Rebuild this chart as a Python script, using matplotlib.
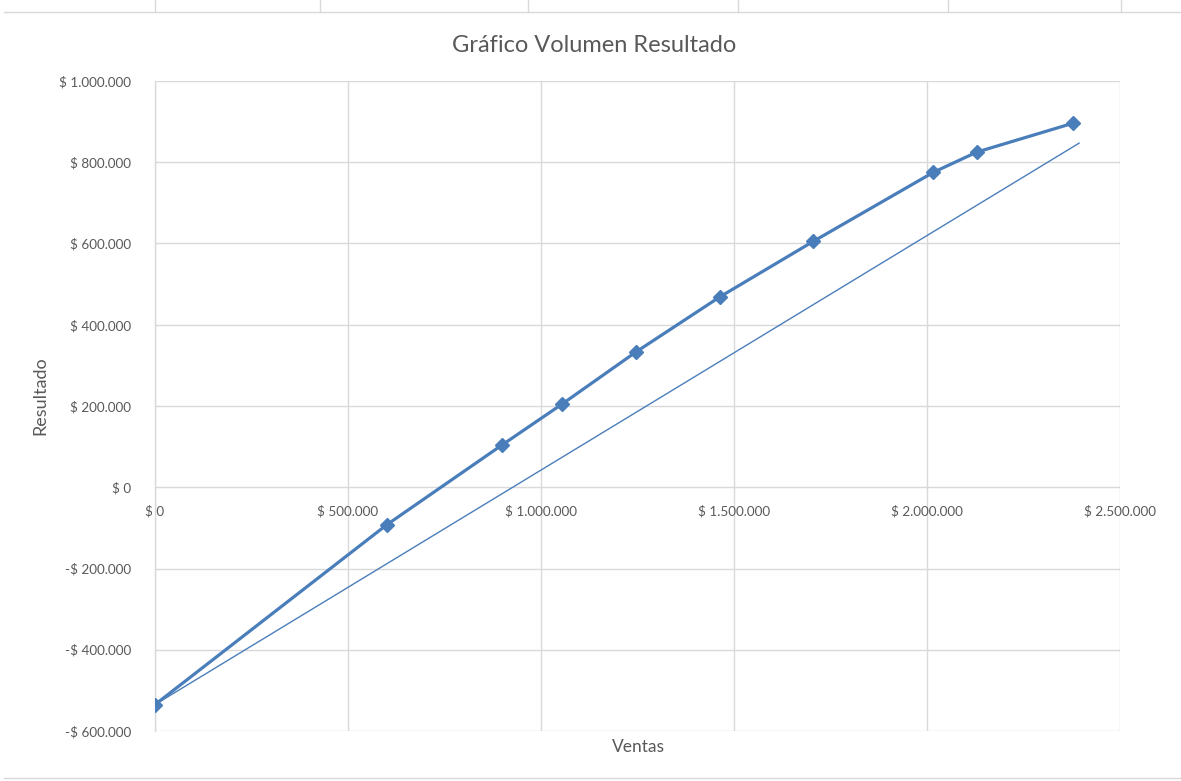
import matplotlib.pyplot as plt
from matplotlib.lines import Line2D
from matplotlib.ticker import FuncFormatter, MultipleLocator

# Datos
ventas = [0, 601000, 899000, 1055000, 1246000, 1464000, 1705000, 2016000, 2129000, 2378000]
resultado = [-535000, -92000, 104000, 205000, 333000, 469000, 605000, 775000, 825000, 896000]

# Recta delgada (segunda serie)
ventas_recta = [0, 2394000]
resultado_recta = [-535000, 847000]

AZUL = '#4A7EBB'
GRIS = '#595959'
GRID = '#D9D9D9'

plt.rcParams['font.family'] = ['Lato', 'DejaVu Sans']


def formato_pesos(v, pos):
    s = f"{abs(v):,.0f}".replace(',', '.')
    return f"-$ {s}" if v < 0 else f"$ {s}"


fig = plt.figure(figsize=(11.81, 7.81), dpi=100)
ax = fig.add_axes([155 / 1181, 1 - 731 / 781, (1120 - 155) / 1181, (731 - 81) / 781])

ax.plot(ventas_recta, resultado_recta, color=AZUL, linewidth=1.0, zorder=3)
ax.plot(ventas, resultado, color=AZUL, linewidth=2.3, marker='D', markersize=7,
        zorder=4)

ax.set_xlim(0, 2500000)
ax.set_ylim(-600000, 1000000)
ax.xaxis.set_major_locator(MultipleLocator(500000))
ax.yaxis.set_major_locator(MultipleLocator(200000))
ax.xaxis.set_major_formatter(FuncFormatter(formato_pesos))
ax.yaxis.set_major_formatter(FuncFormatter(formato_pesos))

ax.grid(True, color=GRID, linewidth=1.0, zorder=0)
ax.set_axisbelow(True)
for lado in ['top', 'right', 'bottom']:
    ax.spines[lado].set_visible(False)
ax.spines['left'].set_color(GRID)
ax.spines['left'].set_linewidth(1.0)
ax.spines['bottom'].set_position(('data', 0))

ax.tick_params(axis='both', length=0, labelsize=9.7, labelcolor=GRIS)
ax.tick_params(axis='x', pad=13)
ax.tick_params(axis='y', pad=17)

fig.text(594 / 1181, 1 - 45 / 781, "Gráfico Volumen Resultado", ha='center',
         va='center', fontsize=17, color=GRIS)
fig.text(638 / 1181, 1 - 747 / 781, "Ventas", ha='center', va='center',
         fontsize=12.5, color=GRIS)
fig.text(40 / 1181, 1 - 396 / 781, "Resultado", ha='center', va='center',
         rotation=90, fontsize=13, color=GRIS)

# Bordes de la hoja de calculo
fig.add_artist(Line2D([4 / 1181, 1], [1 - 12 / 781, 1 - 12 / 781],
                      color=GRID, linewidth=1.0, transform=fig.transFigure))
for xp in [155, 320, 528, 738, 948, 1121]:
    fig.add_artist(Line2D([xp / 1181, xp / 1181], [1 - 12 / 781, 1],
                          color=GRID, linewidth=1.0, transform=fig.transFigure))
fig.add_artist(Line2D([4 / 1181, 1], [1 - 778 / 781, 1 - 778 / 781],
                      color=GRID, linewidth=1.0, transform=fig.transFigure))

fig.savefig("out.png", dpi=100)
